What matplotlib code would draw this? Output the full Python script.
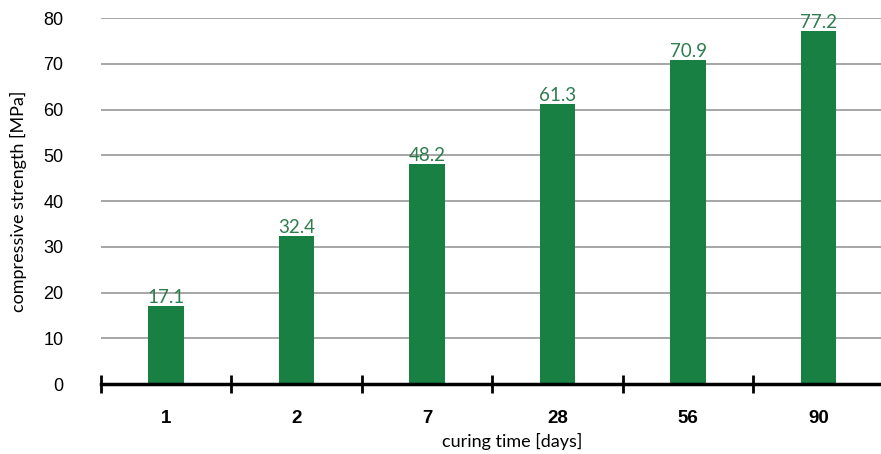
import matplotlib.pyplot as plt
import numpy as np

days = ["1", "2", "7", "28", "56", "90"]
strength = [17.1, 32.4, 48.2, 61.3, 70.9, 77.2]

bar_color = "#188043"
label_color = "#2e7d4f"

fig = plt.figure(figsize=(8.81, 4.54), dpi=100)
# axes runs slightly past the right edge of the figure, as in the original
ax = fig.add_axes([0.1144, 0.154, 0.8888, 0.806])

x = np.arange(len(days))
ax.bar(x, strength, width=0.27, color=bar_color, zorder=3)
for xi, v in zip(x, strength):
    ax.text(xi, v, f"{v}", ha="center", va="bottom", color=label_color,
            fontsize=13.5, family="Lato", zorder=4)

ax.set_xlim(-0.5, len(days) - 0.5)
ax.set_ylim(0, 80)
ax.set_yticks(range(0, 81, 10))
ax.yaxis.grid(True, color="#a6a6a6", linewidth=1.4, zorder=0)
ax.set_axisbelow(True)

for s in ["top", "right", "left"]:
    ax.spines[s].set_visible(False)
ax.spines["bottom"].set_linewidth(2.5)
ax.spines["bottom"].set_zorder(5)

# category boundaries as major ticks, names on minor ticks
ax.set_xticks(np.arange(-0.5, len(days), 1.0))
ax.set_xticklabels([])
ax.tick_params(axis="x", which="major", direction="inout", length=13, width=2, color="black")
ax.set_xticks(x, minor=True)
ax.set_xticklabels(days, minor=True, fontsize=13.5, fontweight="bold", family="Liberation Sans")
ax.tick_params(axis="x", which="minor", length=0, pad=19)

ax.tick_params(axis="y", length=0, pad=27, labelsize=13)
for t in ax.get_yticklabels():
    t.set_family("Liberation Sans")

ax.set_xlabel("curing time [days]", fontsize=13, family="Lato", va="center")
ax.xaxis.set_label_coords(0.525, -0.158)
ax.set_ylabel("compressive strength [MPa]", fontsize=13, family="Lato", va="center")
ax.yaxis.set_label_coords(-0.1057, 0.5)

fig.savefig("out.png", dpi=100)
